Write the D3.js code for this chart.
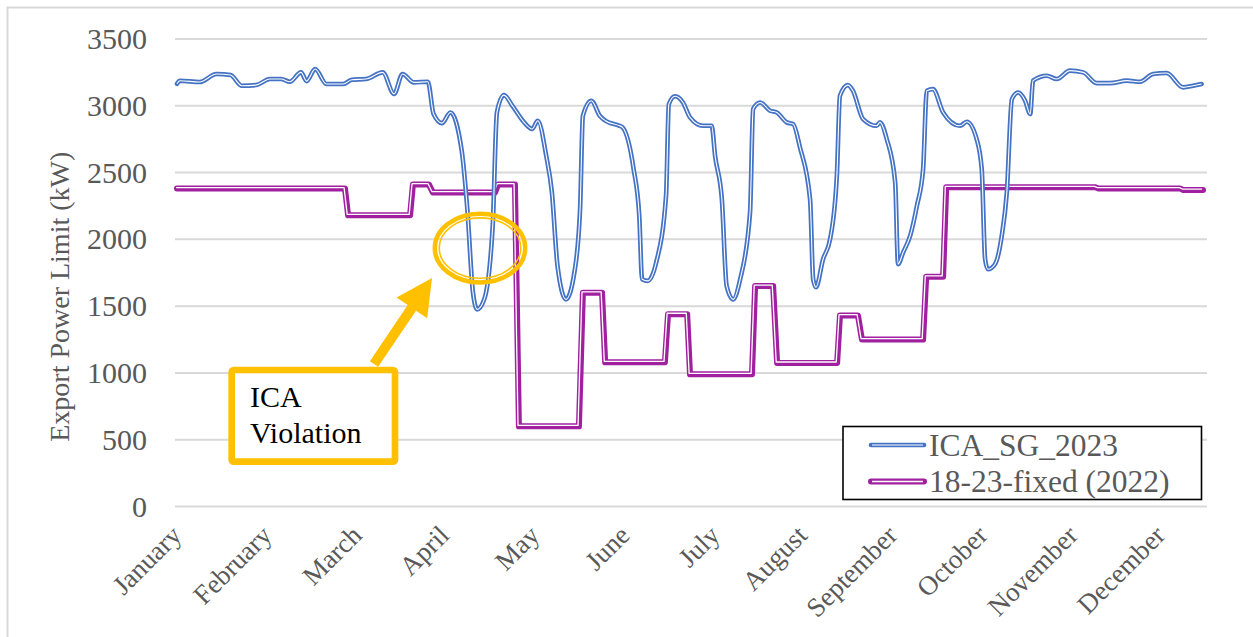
<!DOCTYPE html>
<html>
<head>
<meta charset="utf-8">
<script src="https://cdn.jsdelivr.net/npm/d3@7/dist/d3.min.js"></script>
<style>
  html, body { margin: 0; padding: 0; background: #fff; }
  svg { display: block; }
  text { font-family: "Liberation Serif", "Times New Roman", serif; }
</style>
</head>
<body>
<svg id="chart" width="1253" height="637"></svg>
<script>
// ---- data ---------------------------------------------------------------
// Day-of-year sample points for the hosting-capacity (ICA) export limit, kW
const icaDays = [0, 1, 8, 14, 19, 23, 28, 33, 37, 40, 44, 46, 49, 53, 59, 62, 67, 73, 77, 80, 84, 89,
  91, 94, 97, 101, 103, 105, 106.5, 109, 112, 113.5, 116, 119, 123, 126, 128, 131, 133, 135, 138,
  141, 143, 144, 147, 150, 152, 157, 158, 162, 164, 165, 167, 170, 173.5, 174.5, 176.7, 179.5,
  182, 186.6, 189.7, 190.9, 193.3, 195, 197.3, 199.8, 203.3, 204.4, 206.9, 210.4, 212.8, 216.3,
  218.6, 221, 224.6, 225.7, 226.7, 229.2, 231.7, 234.1, 235.2, 238, 239.8, 243.4, 248.2, 249.4,
  251.8, 254.8, 255.8, 257.6, 260.1, 262.5, 264.7, 266, 268.2, 271.8, 277.8, 280.2, 283.7, 285.5,
  286.7, 287.7, 290.2, 292.6, 294.4, 296.2, 298.4, 300.9, 302.7, 303.7, 308.6, 312.1, 316.8,
  321.5, 326.3, 331, 337, 341.7, 346.3, 351.1, 356.9, 360.5, 363.5];
const icaKW = [3165, 3187, 3178, 3238, 3230, 3150, 3155, 3200, 3200, 3180, 3250, 3185, 3275, 3163,
  3163, 3195, 3200, 3250, 3088, 3238, 3175, 3180, 2940, 2870, 2950, 2665, 2226, 1603, 1476, 1551,
  2100, 2950, 3080, 3000, 2880, 2826, 2888, 2625, 2353, 1801, 1551, 1754, 2226, 2925, 3038, 2925,
  2888, 2850, 2840, 2526, 2176, 1701, 1689, 1826, 2326, 3013, 3071, 3025, 2913, 2850, 2850, 2625,
  2301, 1651, 1551, 1701, 2201, 2976, 3025, 2963, 2950, 2876, 2863, 2690, 2301, 1701, 1641, 1851,
  2001, 2476, 3075, 3155, 3113, 2900, 2850, 2876, 2751, 2426, 1814, 1901, 2026, 2251, 2526, 3113,
  3125, 2950, 2850, 2880, 2751, 2526, 1851, 1776, 1814, 2026, 2351, 3050, 3100, 3038, 2938, 3188,
  3225, 3200, 3263, 3250, 3170, 3170, 3188, 3180, 3238, 3245, 3138, 3150, 3163];

// Fixed 18:00-23:00 export schedule (2022), stepwise, kW
const fixedDays = [0, 59.6, 60.7, 82.7, 83.7, 89.4, 90.8, 112.8, 113.9, 119.9, 121.3, 142.6, 144,
  150.8, 151.9, 173.1, 174.2, 181, 182, 204, 205.1, 211.5, 212.9, 234.2, 235.2, 241.6, 243, 264.7,
  265.8, 271.8, 272.9, 325.8, 326.9, 356, 357, 364];
const fixedKW = [2380, 2380, 2180, 2180, 2410, 2410, 2350, 2350, 2410, 2410, 600, 600, 1600, 1600,
  1080, 1080, 1440, 1440, 990, 990, 1650, 1650, 1075, 1075, 1430, 1430, 1250, 1250, 1720, 1720,
  2390, 2390, 2380, 2380, 2370, 2370];

const yTicks = [0, 500, 1000, 1500, 2000, 2500, 3000, 3500];
const monthNames = ["January", "February", "March", "April", "May", "June", "July", "August",
  "September", "October", "November", "December"];
const monthTickDays = [0, 32, 64, 95, 127, 159, 191, 222, 254, 286, 318, 349];

const seriesNames = ["ICA_SG_2023", "18-23-fixed (2022)"];
const yTitle = "Export Power Limit (kW)";
const noteLines = ["ICA", "Violation"];
// circled region where the ICA limit drops below the fixed schedule
const violationCentre = { day: 107.5, kw: 1935 };

// ---- layout --------------------------------------------------------------
const W = 1253, H = 637;
const plotLeft = 175, plotRight = 1207;
const BLUE = "#4472C4", PURPLE = "#A020A0", GOLD = "#FFC000", GREY = "#595959";

const svg = d3.select("#chart");
svg.append("rect").attr("width", W).attr("height", H).attr("fill", "#fff");
// chart area border
svg.append("rect").attr("x", 7.5).attr("y", 7.5).attr("width", W + 20).attr("height", H + 20)
  .attr("fill", "none").attr("stroke", "#d9d9d9").attr("stroke-width", 2);

const x = d3.scaleLinear().domain([0, 364]).range([177, 1203]);
const y = d3.scaleLinear().domain([0, 3500]).range([506.5, 39]);

// gridlines
svg.append("g").selectAll("line").data(yTicks).join("line")
  .attr("x1", plotLeft).attr("x2", plotRight)
  .attr("y1", d => y(d)).attr("y2", d => y(d))
  .attr("stroke", "#d9d9d9").attr("stroke-width", 2);

// y tick labels
svg.append("g").selectAll("text").data(yTicks).join("text")
  .attr("x", 147).attr("y", d => y(d) + 10)
  .attr("text-anchor", "end").attr("font-size", 30).attr("fill", GREY)
  .text(d => d);

// y axis title
svg.append("text")
  .attr("transform", `translate(69, ${(y(0) + y(3500)) / 2 + 24}) rotate(-90)`)
  .attr("text-anchor", "middle").attr("font-size", 28).attr("fill", GREY)
  .text(yTitle);

// month labels, rotated
svg.append("g").selectAll("text").data(monthTickDays).join("text")
  .attr("transform", d => `translate(${x(d) + 6}, 537) rotate(-45)`)
  .attr("text-anchor", "end").attr("font-size", 27).attr("fill", GREY)
  .text((d, i) => monthNames[i]);

// double-stroke line helper
function doubleLine(days, vals, color, outerW, innerW, curve, shift) {
  const pts = days.map((d, i) => [d, vals[i]]);
  const gen = d3.line().x(p => x(p[0])).y(p => y(p[1])).curve(curve);
  const g = svg.append("g");
  g.append("path").attr("d", gen(pts)).attr("fill", "none").attr("stroke", color)
    .attr("stroke-width", outerW).attr("stroke-linejoin", "round").attr("stroke-linecap", "round");
  g.append("path").attr("d", gen(pts)).attr("fill", "none").attr("stroke", "#fff")
    .attr("stroke-width", innerW).attr("stroke-linejoin", "round")
    .attr("transform", `translate(${shift}, ${shift})`);
}

doubleLine(fixedDays, fixedKW, PURPLE, 6, 1.3, d3.curveLinear, -0.9);
doubleLine(icaDays, icaKW, BLUE, 4.6, 1.1, d3.curveMonotoneX, 0);

// violation highlight ring (double)
const cx = x(violationCentre.day), cy = y(violationCentre.kw);
svg.append("ellipse").attr("cx", cx).attr("cy", cy).attr("rx", 45.2).attr("ry", 34.4)
  .attr("fill", "none").attr("stroke", GOLD).attr("stroke-width", 4.5);
svg.append("ellipse").attr("cx", cx).attr("cy", cy).attr("rx", 40.8).attr("ry", 30.2)
  .attr("fill", "none").attr("stroke", GOLD).attr("stroke-width", 1.6);

// arrow from the note box to the ring
function arrowPoly(x0, y0, x1, y1, shaftW, headL, headW) {
  const dx = x1 - x0, dy = y1 - y0, len = Math.hypot(dx, dy);
  const ux = dx / len, uy = dy / len, nx = -uy, ny = ux;
  const bx = x1 - ux * headL, by = y1 - uy * headL;
  const p = [
    [x0 + nx * shaftW / 2, y0 + ny * shaftW / 2],
    [bx + nx * shaftW / 2, by + ny * shaftW / 2],
    [bx + nx * headW / 2, by + ny * headW / 2],
    [x1, y1],
    [bx - nx * headW / 2, by - ny * headW / 2],
    [bx - nx * shaftW / 2, by - ny * shaftW / 2],
    [x0 - nx * shaftW / 2, y0 - ny * shaftW / 2]
  ];
  return p.map(q => q.join(",")).join(" ");
}
svg.append("polygon").attr("points", arrowPoly(374, 364, 432, 278, 10, 36, 37)).attr("fill", GOLD);

// note box
svg.append("rect").attr("x", 231.7).attr("y", 370).attr("width", 163.3).attr("height", 91.7)
  .attr("rx", 2).attr("fill", "#fff").attr("stroke", GOLD).attr("stroke-width", 6.7);
svg.append("g").selectAll("text").data(noteLines).join("text")
  .attr("x", 250).attr("y", (d, i) => 407 + i * 36)
  .attr("font-size", 30).attr("fill", "#000").text(d => d);

// legend
const lg = svg.append("g");
lg.append("rect").attr("x", 843).attr("y", 426.5).attr("width", 358.5).attr("height", 73)
  .attr("fill", "#fff").attr("stroke", "#000").attr("stroke-width", 1.6);
const legendItems = [
  { name: seriesNames[0], color: BLUE, w: 4.6, iw: 1.1 },
  { name: seriesNames[1], color: PURPLE, w: 6, iw: 1.3 }
];
legendItems.forEach((it, i) => {
  const ly = 445 + i * 36.5;
  lg.append("line").attr("x1", 871).attr("x2", 924).attr("y1", ly).attr("y2", ly)
    .attr("stroke", it.color).attr("stroke-width", it.w).attr("stroke-linecap", "round");
  lg.append("line").attr("x1", 872).attr("x2", 923).attr("y1", ly).attr("y2", ly)
    .attr("stroke", "#fff").attr("stroke-width", it.iw);
  lg.append("text").attr("x", 929).attr("y", ly + 10.5).attr("font-size", 31.5).attr("fill", GREY)
    .text(it.name);
});
</script>
</body>
</html>
